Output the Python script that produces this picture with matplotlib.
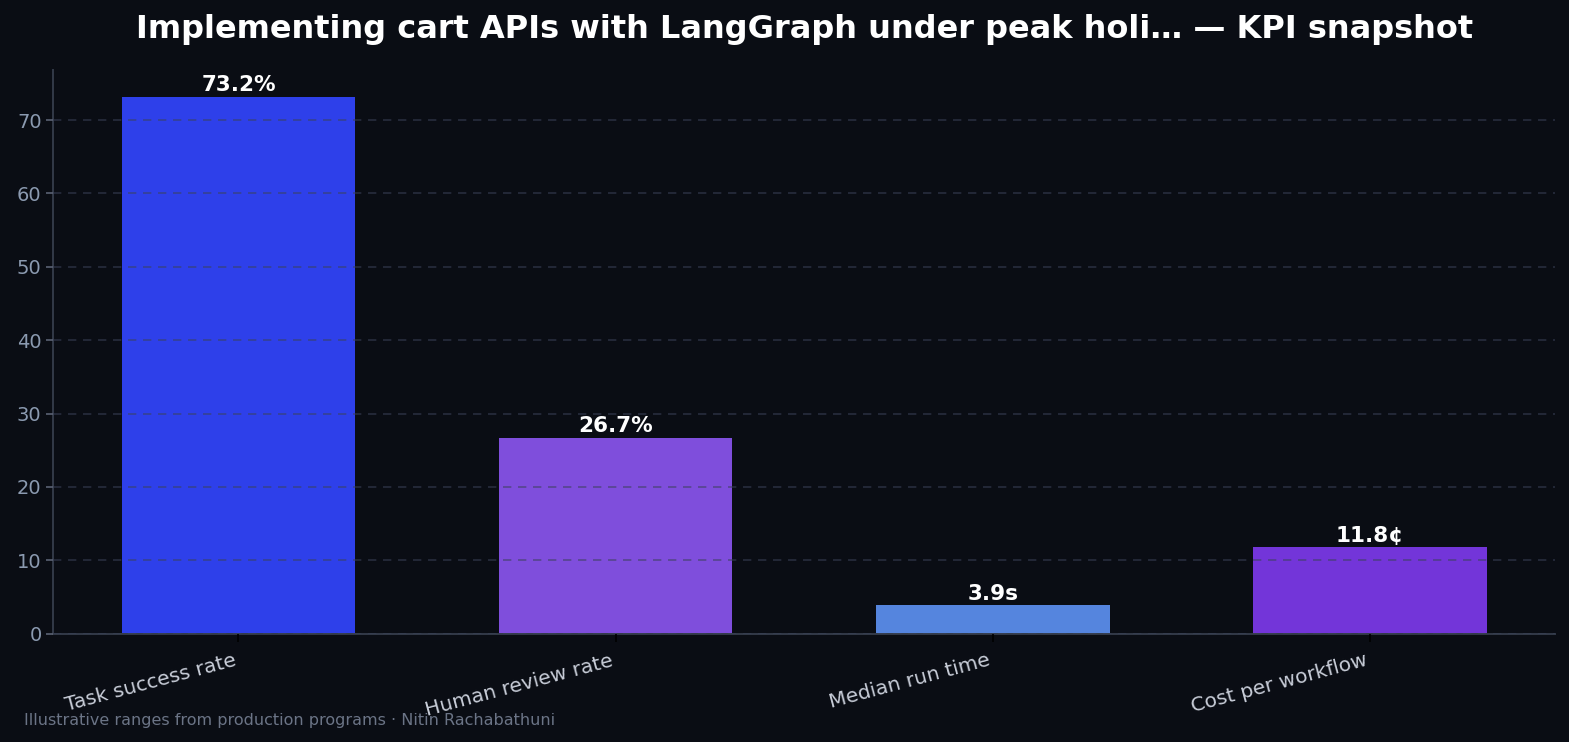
import numpy as np
import matplotlib.pyplot as plt

plt.rcParams['font.family'] = ['DejaVu Sans']

labels = ["Task success rate", "Human review rate", "Median run time", "Cost per workflow"]
values = [73.2, 26.7, 3.9, 11.8]
value_text = ["73.2%", "26.7%", "3.9s", "11.8¢"]
colors = ["#2E40EA", "#7F4EDC", "#5585DE", "#7335D9"]

bg = "#0A0D14"
fig, ax = plt.subplots(figsize=(15.69, 7.42), dpi=100)
fig.patch.set_facecolor(bg)
ax.set_facecolor(bg)

x = np.arange(len(labels))
bars = ax.bar(x, values, width=0.62, color=colors, zorder=1)
ax.set_ylim(0, max(values) * 1.05)

ax.grid(axis="y", linestyle="--", color="#3A4258", alpha=0.6, linewidth=1.2,
        dashes=(5, 4), zorder=2)
ax.set_axisbelow(False)

for xi, v, t in zip(x, values, value_text):
    ax.text(xi, v + 0.2, t, ha="center", va="bottom", color="white",
            fontsize=15.5, fontweight="bold", zorder=3)

ax.set_xticks(x)
ax.set_xticklabels(labels, rotation=15, ha="right", color="#C8CDD8", fontsize=14.5)
ax.tick_params(axis="x", colors="black", labelcolor="#C8CDD8", length=5.5, width=1.2, pad=7)
ax.tick_params(axis="y", colors="#5A6273", labelcolor="#8B9AB0", labelsize=14,
               length=5, width=1.2)
for s in ["top", "right"]:
    ax.spines[s].set_visible(False)
for s in ["left", "bottom"]:
    ax.spines[s].set_color("#333A48")
    ax.spines[s].set_linewidth(1.4)

ax.set_title("Implementing cart APIs with LangGraph under peak holi… — KPI snapshot",
             color="white", fontsize=23, fontweight="bold", pad=23)
fig.text(0.015, 0.023, "Illustrative ranges from production programs · Nitin Rachabathuni",
         color="#6B7486", fontsize=11.5)

fig.subplots_adjust(left=0.034, right=0.991, top=0.906, bottom=0.146)
fig.savefig("out.png", dpi=100, facecolor=bg)
